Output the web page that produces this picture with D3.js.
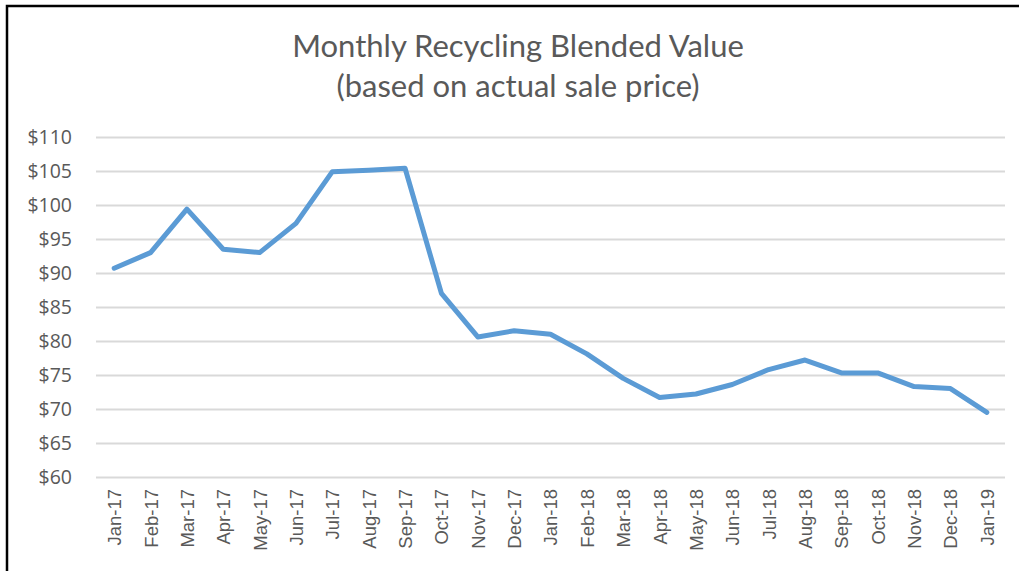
<!DOCTYPE html>
<html>
<head>
<meta charset="utf-8">
<script src="https://cdn.jsdelivr.net/npm/d3@7"></script>
<style>
  body { margin: 0; background: #fff; }
  svg { display: block; }
</style>
</head>
<body>
<div id="chart"></div>
<script>
// months on the category axis
var months = ["Jan-17", "Feb-17", "Mar-17", "Apr-17", "May-17", "Jun-17", "Jul-17", "Aug-17", "Sep-17",
  "Oct-17", "Nov-17", "Dec-17", "Jan-18", "Feb-18", "Mar-18", "Apr-18", "May-18", "Jun-18",
  "Jul-18", "Aug-18", "Sep-18", "Oct-18", "Nov-18", "Dec-18", "Jan-19"];

// blended value in $
var values = [90.7, 93.0, 99.4, 93.5, 93.0, 97.3, 104.9, 105.1, 105.4,
  87.0, 80.6, 81.5, 81.0, 78.1, 74.5, 71.7, 72.2, 73.6,
  75.8, 77.2, 75.3, 75.3, 73.3, 73.0, 69.5];

var yTicks = [60, 65, 70, 75, 80, 85, 90, 95, 100, 105, 110];

var titleLines = ["Monthly Recycling Blended Value", "(based on actual sale price)"];

var width = 1019;
var height = 571;
var margin = { top: 137, right: 14, bottom: 94, left: 96 };

var svg = d3.select("#chart")
  .append("svg")
  .attr("width", width)
  .attr("height", height);

svg.append("rect")
  .attr("width", width)
  .attr("height", height)
  .attr("fill", "#fff");

// frame (only top and left edges show in the crop)
svg.append("path")
  .attr("d", "M7," + height + "V6H" + width)
  .attr("fill", "none")
  .attr("stroke", "#000")
  .attr("stroke-width", 2.5);

var x = d3.scalePoint()
  .domain(months)
  .range([margin.left, width - margin.right])
  .padding(0.5);

var y = d3.scaleLinear()
  .domain([60, 110])
  .range([height - margin.bottom, margin.top]);

// title, two lines
svg.append("g")
  .selectAll("text")
  .data(titleLines)
  .enter().append("text")
  .attr("x", 518)
  .attr("y", function (d, i) { return 57 + i * 40; })
  .attr("text-anchor", "middle")
  .style("font-family", "Lato, 'Open Sans', sans-serif")
  .style("font-size", "31px")
  .style("fill", "#595959")
  .text(function (d) { return d; });

// y axis with gridlines
var yAxis = svg.append("g")
  .attr("transform", "translate(" + margin.left + ",0)")
  .call(d3.axisLeft(y)
    .tickValues(yTicks)
    .tickSize(-(width - margin.right - margin.left))
    .tickPadding(24)
    .tickFormat(function (d) { return "$" + d; }));

yAxis.select(".domain").remove();
yAxis.selectAll(".tick line")
  .attr("stroke", "#d9d9d9")
  .attr("stroke-width", 2);
yAxis.selectAll(".tick text")
  .style("font-family", "'Open Sans', Lato, sans-serif")
  .style("font-size", "19.5px")
  .style("fill", "#595959");

// x axis, rotated labels
var xAxis = svg.append("g")
  .attr("transform", "translate(0," + (height - margin.bottom) + ")")
  .call(d3.axisBottom(x).tickSize(0).tickPadding(0));

xAxis.select(".domain").remove();
xAxis.selectAll(".tick text")
  .attr("transform", "rotate(-90)")
  .attr("x", -12)
  .attr("y", 0)
  .attr("dy", "0.35em")
  .attr("text-anchor", "end")
  .style("font-family", "'Liberation Sans', Arial, sans-serif")
  .style("font-size", "18.5px")
  .style("fill", "#595959");

// the line
var line = d3.line()
  .x(function (d, i) { return x(months[i]); })
  .y(function (d) { return y(d); });

svg.append("path")
  .datum(values)
  .attr("d", line)
  .attr("fill", "none")
  .attr("stroke", "#5b9bd5")
  .attr("stroke-width", 5)
  .attr("stroke-linejoin", "round")
  .attr("stroke-linecap", "round");
</script>
</body>
</html>
